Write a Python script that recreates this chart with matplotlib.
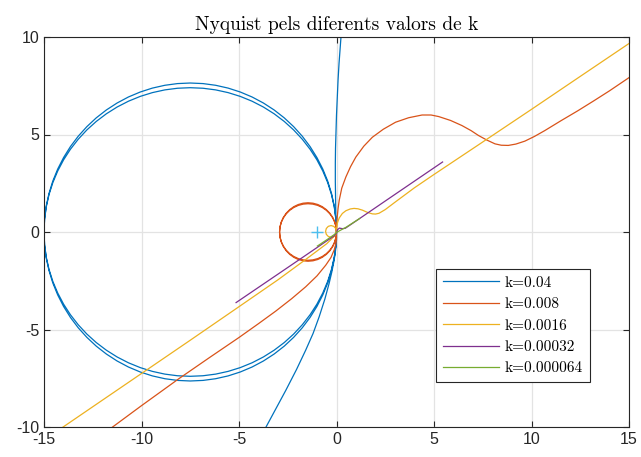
import numpy as np
import matplotlib
matplotlib.use("Agg")
import matplotlib.pyplot as plt

plt.rcParams['font.family'] = ['Liberation Sans', 'DejaVu Sans']
plt.rcParams['axes.unicode_minus'] = False

labels = ['k=0.04', 'k=0.008', 'k=0.0016', 'k=0.00032', 'k=0.000064']
colors = ['#0072BD', '#D95319', '#EDB120', '#7E2F8E', '#77AC30']

# k = 0.04 : upper branch, two big loops, lower branch
blue_up_x = [0.30, 0.23, 0.18, 0.13, 0.08, 0.04, 0.0, -0.03, -0.05, -0.06, -0.06, -0.05, -0.03, 0.0]
blue_up_y = [10.6, 10.0, 9.3, 8.65, 7.8, 6.94, 6.0, 5.03, 4.3, 3.52, 2.6, 1.81, 0.62, 0.0]
blue_loop_x = [0, -0.029, -0.114, -0.256, -0.452, -0.703, -1.005, -1.356, -1.755, -2.197,
               -2.679, -3.198, -3.75, -4.330, -4.935, -5.559, -6.198, -6.846, -7.5,
               -8.154, -8.802, -9.441, -10.065, -10.670, -11.25, -11.802, -12.321, -12.803,
               -13.245, -13.644, -13.995, -14.297, -14.548, -14.744, -14.886, -14.971, -15.0,
               -14.971, -14.886, -14.744, -14.548, -14.297, -13.995, -13.644, -13.245,
               -12.803, -12.321, -11.802, -11.25, -10.670, -10.065, -9.441, -8.802, -8.154,
               -7.5, -6.846, -6.198, -5.559, -4.935, -4.330, -3.75, -3.198, -2.679, -2.197,
               -1.755, -1.356, -1.005, -0.703, -0.452, -0.256, -0.114, -0.029, 0]
blue_outer_y = [0, 0.666, 1.327, 1.977, 2.613, 3.229, 3.82, 4.382, 4.911, 5.402,
                5.853, 6.258, 6.616, 6.924, 7.179, 7.380, 7.524, 7.611, 7.64,
                7.611, 7.524, 7.380, 7.179, 6.924, 6.616, 6.258, 5.853, 5.402,
                4.911, 4.382, 3.82, 3.229, 2.613, 1.977, 1.327, 0.666, 0,
                -0.666, -1.327, -1.977, -2.613, -3.229, -3.82, -4.382, -4.911,
                -5.402, -5.853, -6.258, -6.616, -6.924, -7.179, -7.380, -7.524, -7.611,
                -7.64, -7.611, -7.524, -7.380, -7.179, -6.924, -6.616, -6.258, -5.853, -5.402,
                -4.911, -4.382, -3.82, -3.229, -2.613, -1.977, -1.327, -0.666, 0]
blue_inner_y = [0, 0.645, 1.285, 1.915, 2.531, 3.127, 3.70, 4.244, 4.757, 5.233,
                5.669, 6.062, 6.409, 6.707, 6.954, 7.148, 7.288, 7.372, 7.40,
                7.372, 7.288, 7.148, 6.954, 6.707, 6.409, 6.062, 5.669, 5.233,
                4.757, 4.244, 3.70, 3.127, 2.531, 1.915, 1.285, 0.645, 0,
                -0.645, -1.285, -1.915, -2.531, -3.127, -3.70, -4.244, -4.757,
                -5.233, -5.669, -6.062, -6.409, -6.707, -6.954, -7.148, -7.288, -7.372,
                -7.40, -7.372, -7.288, -7.148, -6.954, -6.707, -6.409, -6.062, -5.669, -5.233,
                -4.757, -4.244, -3.70, -3.127, -2.531, -1.915, -1.285, -0.645, 0]
blue_low_x = [0, 0.0, -0.05, -0.12, -0.24, -0.38, -0.6, -0.89, -1.2, -1.58, -2.05, -2.6, -3.1, -3.63, -3.9]
blue_low_y = [0, -0.41, -0.95, -1.44, -2.05, -2.64, -3.45, -4.35, -5.2, -6.06, -7.05, -8.12, -9.05, -10.03, -10.5]

# k = 0.008
orange_low_x = [-12.0, -11.55, -10.02, -8.08, -6.5, -5.0, -4.0, -3.12, -2.3, -1.58, -1.0,
                -0.55, -0.28, -0.12, -0.03, 0.0, 0.0]
orange_low_y = [-10.4, -10.05, -8.92, -7.52, -6.43, -5.41, -4.7, -4.06, -3.42, -2.81, -2.25,
                -1.70, -1.3, -0.92, -0.6, -0.3, 0.0]
orange_loop_x = [0, -0.022, -0.088, -0.196, -0.342, -0.522, -0.73, -0.961, -1.206, -1.46,
                 -1.714, -1.959, -2.19, -2.398, -2.578, -2.724, -2.832, -2.898, -2.92,
                 -2.898, -2.832, -2.724, -2.578, -2.398, -2.19, -1.959, -1.714, -1.46,
                 -1.206, -0.961, -0.73, -0.522, -0.342, -0.196, -0.088, -0.022, 0]
orange_loop1_y = [0, 0.260, 0.513, 0.75, 0.964, 1.149, 1.299, 1.410, 1.477, 1.50,
                  1.477, 1.410, 1.299, 1.149, 0.964, 0.75, 0.513, 0.260, 0,
                  -0.260, -0.513, -0.75, -0.964, -1.149, -1.299, -1.410, -1.477, -1.50,
                  -1.477, -1.410, -1.299, -1.149, -0.964, -0.75, -0.513, -0.260, 0]
orange_loop2_y = [0, 0.252, 0.496, 0.725, 0.932, 1.111, 1.256, 1.363, 1.428, 1.45,
                  1.428, 1.363, 1.256, 1.111, 0.932, 0.725, 0.496, 0.252, 0,
                  -0.252, -0.496, -0.725, -0.932, -1.111, -1.256, -1.363, -1.428, -1.45,
                  -1.428, -1.363, -1.256, -1.111, -0.932, -0.725, -0.496, -0.252, 0]
orange_up_x = [0, 0.01, 0.04, 0.08, 0.14, 0.27, 0.48, 0.72, 0.99, 1.4, 1.84, 2.4, 3.03, 3.7,
               4.39, 4.85, 5.24, 5.85, 6.43, 6.9, 7.28, 7.7, 8.13, 8.45, 8.81, 9.2, 9.66,
               10.15, 10.68, 11.5, 12.38, 13.2, 14.0, 15.05, 15.5]
orange_up_y = [0, 0.3, 0.8, 1.2, 1.63, 2.25, 2.82, 3.35, 3.84, 4.4, 4.86, 5.27, 5.63, 5.86,
               6.0, 6.0, 5.92, 5.72, 5.46, 5.2, 4.95, 4.72, 4.52, 4.45, 4.44, 4.51, 4.66,
               4.9, 5.2, 5.7, 6.22, 6.73, 7.24, 7.95, 8.25]

# k = 0.0016
yellow_low_x = [-14.5, -14.02, -12.19, -10.02, -7.5, -5.0, -3.0, -1.5, -0.5, -0.1, 0.0]
yellow_low_y = [-10.33, -10.0, -8.75, -7.27, -5.55, -3.83, -2.45, -1.35, -0.6, -0.2, 0.03]
yellow_loop_x = [0, -0.0375, -0.14, -0.28, -0.42, -0.5225, -0.56, -0.5225, -0.42, -0.28,
                 -0.14, -0.0375, 0]
yellow_loop_y = [0.03, 0.18, 0.29, 0.33, 0.29, 0.18, 0.03, -0.12, -0.23, -0.27,
                 -0.23, -0.12, 0.03]
yellow_up_x = [0, 0.01, 0.04, 0.14, 0.3, 0.48, 0.7, 0.9, 1.1, 1.33, 1.6, 1.84, 2.0, 2.18,
               2.5, 3.03, 4.0, 5.0, 7.28, 10.0, 12.5, 15.05, 15.5]
yellow_up_y = [0.03, 0.2, 0.45, 0.72, 0.95, 1.09, 1.18, 1.21, 1.19, 1.12, 1.0, 0.93, 0.92, 0.96,
               1.15, 1.55, 2.27, 2.95, 4.47, 6.29, 7.98, 9.7, 10.0]

# k = 0.00032
purple_x = [-5.15, -3.0, -1.5, -0.3, -0.1, 0.0, 0.05, 0.15, 0.3, 0.45, 1.33, 3.03, 5.44]
purple_y = [-3.62, -2.16, -1.14, -0.32, -0.18, -0.05, 0.12, 0.2, 0.17, 0.19, 0.79, 1.95, 3.59]

# k = 0.000064
green_x = [-0.98, -0.5, -0.1, 0.0, 0.5, 1.2]
green_y = [-0.72, -0.40, -0.12, -0.02, 0.25, 0.70]

crit_x = [-1]
crit_y = [0]

series = [
    ([blue_up_x, blue_loop_x, blue_loop_x, blue_low_x],
     [blue_up_y, blue_outer_y, blue_inner_y, blue_low_y]),
    ([orange_low_x, orange_loop_x, orange_loop_x, orange_up_x],
     [orange_low_y, orange_loop1_y, orange_loop2_y, orange_up_y]),
    ([yellow_low_x, yellow_loop_x, yellow_up_x],
     [yellow_low_y, yellow_loop_y, yellow_up_y]),
    ([purple_x], [purple_y]),
    ([green_x], [green_y]),
]

fig = plt.figure(figsize=(6.41, 4.57), dpi=100)
ax = fig.add_axes([44/641, 30/457, 585/641, 390/457])

for (xs, ys), lab, col in zip(series, labels, colors):
    x = np.concatenate([np.array(s, float) for s in xs])
    y = np.concatenate([np.array(s, float) for s in ys])
    ax.plot(x, y, color=col, lw=0.9, label=lab)

ax.plot(crit_x, crit_y, '+', color='#4DBEEE', ms=8, mew=1.0)

ax.set_xlim(-15, 15)
ax.set_ylim(-10, 10)
ax.set_xticks(np.arange(-15, 16, 5))
ax.set_yticks(np.arange(-10, 11, 5))
ax.grid(True, color='#e3e3e3', lw=0.9)
ax.set_axisbelow(True)
ax.tick_params(direction='in', top=True, right=True, length=4, width=0.8,
               colors='#262626', labelsize=11.5)
for sp in ax.spines.values():
    sp.set_color('#262626')
    sp.set_linewidth(0.8)

ax.set_title('Nyquist pels diferents valors de k', family='cmr10', fontsize=14,
             color='black', pad=5)

leg = ax.legend(loc='lower right', bbox_to_anchor=(0.933, 0.115), prop={'family': 'cmr10', 'size': 11},
                frameon=True, fancybox=False, edgecolor='#262626', framealpha=1,
                handlelength=3.7, labelspacing=0.5, borderpad=0.45, handletextpad=0.35,
                borderaxespad=0)
leg.get_frame().set_linewidth(0.8)

fig.savefig('out.png', dpi=100)
